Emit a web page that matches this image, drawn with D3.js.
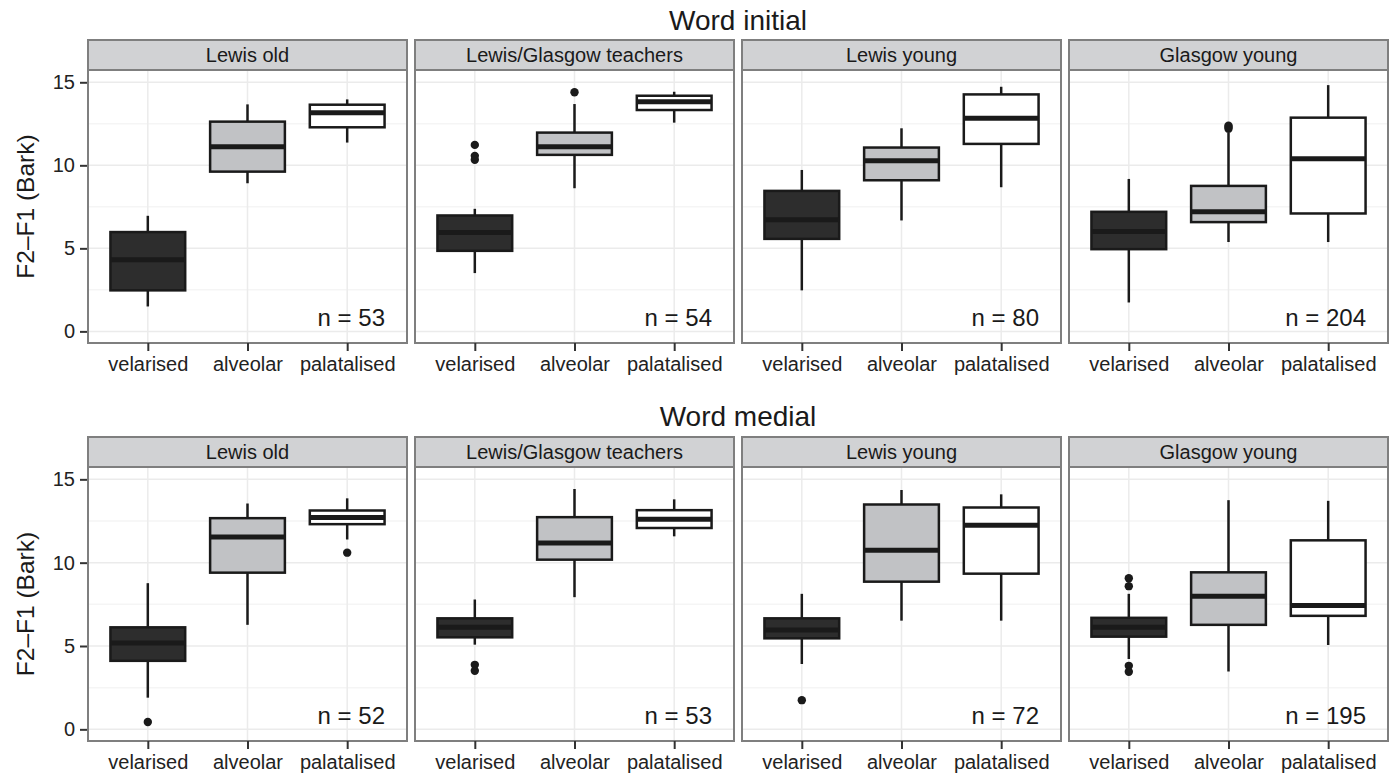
<!DOCTYPE html>
<html>
<head>
<meta charset="utf-8">
<script src="https://cdn.jsdelivr.net/npm/d3@7"></script>
<style>
  body { margin: 0; background: #fff; }
  text { font-family: "Liberation Sans", Arial, Helvetica, sans-serif; }
</style>
</head>
<body>
<script>
var width = 1397;
var height = 781;

var speakers = ['Lewis old', 'Lewis/Glasgow teachers', 'Lewis young', 'Glasgow young'];
var consonants = ['velarised', 'alveolar', 'palatalised'];
var rowTitles = ['Word initial', 'Word medial'];
var yTicks = [0, 5, 10, 15];
var yMinor = [2.5, 7.5, 12.5];

// [low whisker, q1, median, q3, high whisker] per speaker group, per consonant
var initialStats = [
  [[1.5, 2.47, 4.31, 5.98, 6.96], [8.92, 9.62, 11.12, 12.63, 13.67], [11.37, 12.29, 13.17, 13.65, 13.97]],
  [[3.51, 4.85, 5.95, 6.98, 7.38], [8.62, 10.63, 11.12, 11.97, 13.69], [12.57, 13.33, 13.83, 14.19, 14.43]],
  [[2.47, 5.57, 6.72, 8.46, 9.72], [6.68, 9.1, 10.28, 11.07, 12.23], [8.68, 11.29, 12.83, 14.27, 14.73]],
  [[1.74, 4.95, 6.01, 7.2, 9.18], [5.38, 6.58, 7.2, 8.76, 11.95], [5.38, 7.1, 10.4, 12.87, 14.83]]
];
var medialStats = [
  [[1.9, 4.11, 5.18, 6.12, 8.77], [6.27, 9.4, 11.54, 12.67, 13.55], [11.39, 12.31, 12.71, 13.13, 13.86]],
  [[5.08, 5.52, 6.12, 6.66, 7.79], [7.93, 10.18, 11.18, 12.73, 14.42], [11.58, 12.08, 12.61, 13.15, 13.8]],
  [[3.92, 5.46, 5.96, 6.66, 8.13], [6.52, 8.86, 10.74, 13.49, 14.36], [6.52, 9.34, 12.25, 13.31, 14.1]],
  [[4.22, 5.56, 6.12, 6.69, 8.13], [3.47, 6.27, 7.99, 9.42, 13.75], [5.06, 6.81, 7.43, 11.34, 13.71]]
];
// outliers per speaker group, per consonant
var initialOutliers = [
  [[], [], []],
  [[11.23, 10.57, 10.33], [14.4], []],
  [[], [], []],
  [[], [12.2, 12.3, 12.38], []]
];
var medialOutliers = [
  [[0.44], [], [10.6]],
  [[3.87, 3.51], [], []],
  [[1.75], [], []],
  [[9.07, 8.59, 3.81, 3.45], [], []]
];
var initialN = [53, 54, 80, 204];
var medialN = [52, 53, 72, 195];

var fills = ['#2d2d2d', '#c1c2c5', '#ffffff'];

var panelLeft = 88, panelW = 319, panelGap = 8;
var rows = [
  { title: rowTitles[0], titleY: 30, stripTop: 40, top: 70, bottom: 343, stats: initialStats, outliers: initialOutliers, n: initialN },
  { title: rowTitles[1], titleY: 426, stripTop: 437, top: 467, bottom: 741, stats: medialStats, outliers: medialOutliers, n: medialN }
];

var svg = d3.select('body').append('svg')
  .attr('width', width)
  .attr('height', height);

rows.forEach(function (row) {
  var y = d3.scaleLinear().domain([-0.7, 15.74]).range([row.bottom, row.top]);
  var plotRight = panelLeft + 4 * panelW + 3 * panelGap;

  svg.append('text')
    .attr('x', (panelLeft + plotRight) / 2)
    .attr('y', row.titleY)
    .attr('text-anchor', 'middle')
    .attr('font-size', 28)
    .attr('fill', '#1a1a1a')
    .text(row.title);

  // y axis title
  svg.append('text')
    .attr('transform', 'translate(34,' + ((row.top + row.bottom) / 2) + ') rotate(-90)')
    .attr('text-anchor', 'middle')
    .attr('font-size', 24.5)
    .attr('fill', '#1a1a1a')
    .text('F2\u2013F1 (Bark)');

  // y axis
  var yAxis = svg.append('g')
    .attr('transform', 'translate(' + panelLeft + ',0)')
    .call(d3.axisLeft(y).tickValues(yTicks).tickSize(8).tickPadding(5));
  yAxis.select('.domain').remove();
  yAxis.selectAll('line').attr('stroke', '#333').attr('stroke-width', 2);
  yAxis.selectAll('text').attr('font-size', 20).attr('fill', '#222')
    .style('font-family', '"Liberation Sans", Arial, sans-serif');

  speakers.forEach(function (sp, i) {
    var x0 = panelLeft + i * (panelW + panelGap);
    var x = d3.scalePoint().domain(consonants).range([x0, x0 + panelW]).padding(0.6);
    var step = x.step();
    var boxW = step * 0.75;
    var g = svg.append('g');

    // strip
    g.append('rect')
      .attr('x', x0).attr('y', row.stripTop)
      .attr('width', panelW).attr('height', row.top - row.stripTop)
      .attr('fill', '#d1d2d4').attr('stroke', '#7f7f7f').attr('stroke-width', 2);
    g.append('text')
      .attr('x', x0 + panelW / 2)
      .attr('y', row.top - 8)
      .attr('text-anchor', 'middle')
      .attr('font-size', 20)
      .attr('fill', '#1a1a1a')
      .text(sp);

    // panel background + grid
    g.append('rect')
      .attr('x', x0).attr('y', row.top)
      .attr('width', panelW).attr('height', row.bottom - row.top)
      .attr('fill', '#fff');
    g.selectAll('.minor').data(yMinor).enter().append('line')
      .attr('x1', x0).attr('x2', x0 + panelW)
      .attr('y1', function (d) { return y(d); }).attr('y2', function (d) { return y(d); })
      .attr('stroke', '#f5f5f5').attr('stroke-width', 1.5);
    g.selectAll('.major').data(yTicks).enter().append('line')
      .attr('x1', x0).attr('x2', x0 + panelW)
      .attr('y1', function (d) { return y(d); }).attr('y2', function (d) { return y(d); })
      .attr('stroke', '#ebebeb').attr('stroke-width', 1.5);
    g.selectAll('.vgrid').data(consonants).enter().append('line')
      .attr('x1', function (d) { return x(d); }).attr('x2', function (d) { return x(d); })
      .attr('y1', row.top).attr('y2', row.bottom)
      .attr('stroke', '#ebebeb').attr('stroke-width', 1.5);

    // boxes
    consonants.forEach(function (c, j) {
      var s = row.stats[i][j];
      var cx = x(c);
      g.append('line')
        .attr('x1', cx).attr('x2', cx)
        .attr('y1', y(s[4])).attr('y2', y(s[3]))
        .attr('stroke', '#1a1a1a').attr('stroke-width', 2.5);
      g.append('line')
        .attr('x1', cx).attr('x2', cx)
        .attr('y1', y(s[1])).attr('y2', y(s[0]))
        .attr('stroke', '#1a1a1a').attr('stroke-width', 2.5);
      g.append('rect')
        .attr('x', cx - boxW / 2).attr('y', y(s[3]))
        .attr('width', boxW).attr('height', y(s[1]) - y(s[3]))
        .attr('fill', fills[j]).attr('stroke', '#1a1a1a').attr('stroke-width', 2.5);
      g.append('line')
        .attr('x1', cx - boxW / 2).attr('x2', cx + boxW / 2)
        .attr('y1', y(s[2])).attr('y2', y(s[2]))
        .attr('stroke', '#1a1a1a').attr('stroke-width', 5);
      g.selectAll(null).data(row.outliers[i][j]).enter().append('circle')
        .attr('cx', cx).attr('cy', function (d) { return y(d); })
        .attr('r', 4.2).attr('fill', '#1a1a1a');
    });

    // n label
    g.append('text')
      .attr('x', x0 + panelW - 22)
      .attr('y', row.bottom - 17)
      .attr('text-anchor', 'end')
      .attr('font-size', 24)
      .attr('fill', '#1a1a1a')
      .text('n = ' + row.n[i]);

    // panel border
    g.append('rect')
      .attr('x', x0).attr('y', row.top)
      .attr('width', panelW).attr('height', row.bottom - row.top)
      .attr('fill', 'none').attr('stroke', '#7f7f7f').attr('stroke-width', 2);

    // x axis
    var xAxis = g.append('g')
      .attr('transform', 'translate(0,' + row.bottom + ')')
      .call(d3.axisBottom(x).tickSize(8).tickPadding(6));
    xAxis.select('.domain').remove();
    xAxis.selectAll('line').attr('stroke', '#333').attr('stroke-width', 2);
    xAxis.selectAll('text').attr('font-size', 20).attr('fill', '#222')
      .style('font-family', '"Liberation Sans", Arial, sans-serif');
  });
});
</script>
</body>
</html>
